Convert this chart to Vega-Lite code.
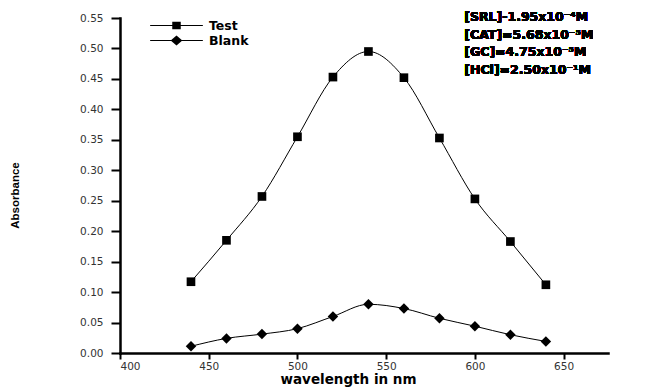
{
  "$schema": "https://vega.github.io/schema/vega-lite/v6.json",
  "width": 488,
  "height": 335,
  "autosize": {"type": "none"},
  "padding": {"left": 120, "top": 18, "right": 47, "bottom": 36},
  "background": "white",
  "data": {
    "values": [
      {"series": "Test", "wavelength": 440, "absorbance": 0.117},
      {"series": "Test", "wavelength": 460, "absorbance": 0.185},
      {"series": "Test", "wavelength": 480, "absorbance": 0.257},
      {"series": "Test", "wavelength": 500, "absorbance": 0.355},
      {"series": "Test", "wavelength": 520, "absorbance": 0.453},
      {"series": "Test", "wavelength": 540, "absorbance": 0.495},
      {"series": "Test", "wavelength": 560, "absorbance": 0.452},
      {"series": "Test", "wavelength": 580, "absorbance": 0.353},
      {"series": "Test", "wavelength": 600, "absorbance": 0.253},
      {"series": "Test", "wavelength": 620, "absorbance": 0.183},
      {"series": "Test", "wavelength": 640, "absorbance": 0.112},
      {"series": "Blank", "wavelength": 440, "absorbance": 0.011},
      {"series": "Blank", "wavelength": 460, "absorbance": 0.024},
      {"series": "Blank", "wavelength": 480, "absorbance": 0.031},
      {"series": "Blank", "wavelength": 500, "absorbance": 0.040},
      {"series": "Blank", "wavelength": 520, "absorbance": 0.060},
      {"series": "Blank", "wavelength": 540, "absorbance": 0.080},
      {"series": "Blank", "wavelength": 560, "absorbance": 0.073},
      {"series": "Blank", "wavelength": 580, "absorbance": 0.057},
      {"series": "Blank", "wavelength": 600, "absorbance": 0.044},
      {"series": "Blank", "wavelength": 620, "absorbance": 0.030},
      {"series": "Blank", "wavelength": 640, "absorbance": 0.019}
    ]
  },
  "encoding": {
    "x": {
      "field": "wavelength",
      "type": "quantitative",
      "scale": {"domain": [400, 675], "nice": false, "zero": false},
      "axis": {
        "title": "wavelength in nm",
        "values": [400, 450, 500, 550, 600, 650],
        "grid": false,
        "domainWidth": 2.5,
        "domainColor": "black",
        "tickColor": "black",
        "tickWidth": 2,
        "tickSize": 6,
        "labelFont": "DejaVu Sans",
        "labelFontSize": 10.5,
        "labelColor": "#333",
        "labelPadding": 2,
        "titleFont": "DejaVu Sans",
        "titleFontWeight": "bold",
        "titleFontSize": 13.5,
        "titleColor": "black",
        "titlePadding": 1,
        "titleX": 228
      }
    },
    "y": {
      "field": "absorbance",
      "type": "quantitative",
      "scale": {"domain": [0, 0.55], "nice": false},
      "axis": {
        "title": "Absorbance",
        "values": [0, 0.05, 0.1, 0.15, 0.2, 0.25, 0.3, 0.35, 0.4, 0.45, 0.5, 0.55],
        "format": ".2f",
        "grid": false,
        "domainWidth": 2.5,
        "domainColor": "black",
        "tickColor": "black",
        "tickWidth": 2,
        "tickSize": 9,
        "labelFont": "DejaVu Sans",
        "labelFontSize": 10.5,
        "labelColor": "#333",
        "labelPadding": 8,
        "titleFont": "Liberation Sans",
        "titleFontWeight": "bold",
        "titleFontSize": 11.5,
        "titleColor": "black",
        "titleX": -100,
        "titleY": 177
      }
    }
  },
  "layer": [
    {
      "mark": {"type": "line", "interpolate": "monotone", "color": "black", "strokeWidth": 1},
      "encoding": {"detail": {"field": "series"}}
    },
    {
      "mark": {"type": "point", "filled": true, "color": "black", "opacity": 1},
      "encoding": {
        "shape": {
          "field": "series",
          "type": "nominal",
          "scale": {"domain": ["Test", "Blank"], "range": ["square", "diamond"]},
          "legend": null
        },
        "size": {
          "field": "series",
          "type": "nominal",
          "scale": {"domain": ["Test", "Blank"], "range": [75, 110]},
          "legend": null
        }
      }
    },
    {
      "mark": {"type": "point", "filled": true, "color": "black", "opacity": 0},
      "encoding": {
        "shape": {
          "field": "series",
          "type": "nominal",
          "scale": {
            "domain": ["Test", "Blank"],
            "range": [
              "M-3.1,-0.06H-0.5V-0.45H0.5V-0.06H3.1V0.06H0.5V0.45H-0.5V0.06H-3.1Z",
              "M-3.1,-0.06H-0.62L0,-0.6L0.62,-0.06H3.1V0.06H0.62L0,0.6L-0.62,0.06H-3.1Z"
            ]
          },
          "legend": {
            "title": null,
            "orient": "none",
            "legendX": 48,
            "legendY": -1,
            "symbolSize": 289,
            "symbolOpacity": 1,
            "symbolFillColor": "black",
            "symbolStrokeColor": "black",
            "symbolStrokeWidth": 0,
            "labelOffset": 24,
            "labelFont": "DejaVu Sans",
            "labelFontWeight": "bold",
            "labelFontSize": 12.5,
            "labelColor": "black",
            "rowPadding": 0,
            "encode": {
              "symbols": {
                "update": {
                  "fill": {"value": "black"},
                  "opacity": {"value": 1}
                }
              }
            }
          }
        }
      }
    },
    {
      "mark": {
        "type": "text",
        "text": ["[SRL]-1.95x10⁻⁴M", "[CAT]=5.68x10⁻⁵M", "[GC]=4.75x10⁻⁵M", "[HCl]=2.50x10⁻¹M"],
        "align": "left",
        "baseline": "top",
        "dy": -7,
        "font": "DejaVu Sans",
        "fontWeight": "bold",
        "fontSize": 12.5,
        "lineHeight": 17.5,
        "fill": "black",
        "strokeWidth": 0
      },
      "encoding": {
        "x": {"datum": 594},
        "y": {"datum": 0.55}
      }
    }
  ],
  "resolve": {"scale": {"shape": "independent", "size": "independent"}},
  "config": {"view": {"stroke": null}, "axis": {"domainCap": "square"}}
}
